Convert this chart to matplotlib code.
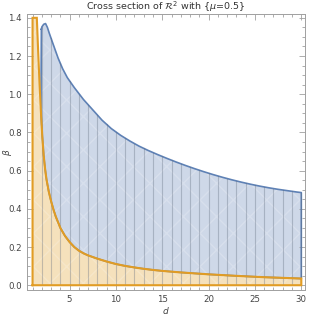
"""Cross section of R^2 region plot (mu = 0.5)."""

import numpy as np
import matplotlib
matplotlib.use("Agg")
import matplotlib.pyplot as plt
from matplotlib.ticker import MultipleLocator

# lower region (orange): beta below this curve, capped at 1.4
orange_d = [1.0, 1.0, 1.46, 1.6, 1.75, 1.9, 2.05, 2.2, 2.35, 2.5, 2.75, 3.0, 3.25, 3.5,
            4.0, 4.5, 5.0, 5.5, 6.0, 6.5, 7.0, 8.0, 9.0, 10.0, 11.0, 12.0, 13.0, 14.0,
            15.0, 17.0, 20.0, 23.0, 26.0, 30.0, 30.0]
orange_b = [0.0, 1.40, 1.40, 1.23, 1.06, 0.91, 0.78, 0.68, 0.61, 0.555, 0.49, 0.44, 0.397, 0.36,
            0.30, 0.258, 0.226, 0.20, 0.181, 0.167, 0.156, 0.139, 0.124, 0.111, 0.101, 0.093,
            0.086, 0.080, 0.075, 0.067, 0.057, 0.049, 0.042, 0.035, 0.0]

# upper boundary of the blue region
blue_d = [1.95, 2.0, 2.2, 2.4, 2.6, 2.8, 3.2, 3.75, 4.25, 4.75, 5.5, 6.5, 7.5, 8.5, 9.5,
          10.5, 11.5, 12.5, 13.5, 14.5, 15.5, 16.5, 17.5, 18.5, 19.5, 20.5, 21.5, 22.5,
          23.5, 24.5, 25.5, 26.5, 27.5, 28.5, 29.5, 30.0]
blue_b = [1.34, 1.352, 1.366, 1.37, 1.35, 1.32, 1.265, 1.19, 1.133, 1.087, 1.035, 0.972,
          0.918, 0.864, 0.82, 0.785, 0.755, 0.728, 0.705, 0.684, 0.664, 0.645, 0.627, 0.61,
          0.594, 0.579, 0.565, 0.552, 0.54, 0.529, 0.519, 0.51, 0.502, 0.495, 0.488, 0.485]

mesh_d = list(range(2, 31))

blue = "#5E81B5"
orange = "#E19C24"
frame_col = "#a0a0a0"
text_col = "#444444"

fig = plt.figure(figsize=(3.09, 3.17), dpi=100)
ax = fig.add_axes([27 / 309, 1 - 290 / 317, 278 / 309, 276 / 317])

# blue region: between orange curve and the upper curve
od = np.array(orange_d[2:-1])
ob = np.array(orange_b[2:-1])
keep = od >= 1.9
low_d = od[keep][::-1]
low_b = ob[keep][::-1]
poly_d = list(blue_d) + list(low_d)
poly_b = list(blue_b) + list(low_b)
ax.fill(poly_d, poly_b, facecolor=blue, alpha=0.3, lw=0)
ax.fill(poly_d, poly_b, facecolor="none", edgecolor=(1, 1, 1, 0.2), lw=0, hatch="x")
ax.plot(poly_d + [poly_d[0]], poly_b + [poly_b[0]], color=blue, lw=1.2, solid_joinstyle="round")

# orange region
ax.fill(orange_d, orange_b, facecolor=orange, alpha=0.3, lw=0)
ax.fill(orange_d, orange_b, facecolor="none", edgecolor=(1, 1, 1, 0.2), lw=0, hatch="x")

# mesh lines at integer d
for d in mesh_d:
    top = np.interp(d, blue_d, blue_b)
    ax.plot([d, d], [0, top], color="#5f6b7d", alpha=0.35, lw=0.8)

ax.plot(orange_d + [orange_d[0]], orange_b + [orange_b[0]], color=orange, lw=1.5,
        solid_joinstyle="miter")

ax.set_xlim(0.4, 30.4)
ax.set_ylim(-0.025, 1.42)

ax.xaxis.set_major_locator(MultipleLocator(5))
ax.xaxis.set_minor_locator(MultipleLocator(1))
ax.yaxis.set_major_locator(MultipleLocator(0.2))
ax.yaxis.set_minor_locator(MultipleLocator(0.05))
ax.yaxis.set_major_formatter(plt.FuncFormatter(lambda v, p: f"{v:.1f}"))

ax.tick_params(which="both", direction="in", top=True, right=True, color=frame_col,
               labelsize=6.2, labelcolor=text_col, width=0.6)
ax.tick_params(which="major", length=4)
ax.tick_params(which="minor", length=2)
for s in ax.spines.values():
    s.set_color(frame_col)
    s.set_linewidth(0.7)

fig.text(166 / 309, 1 - 7 / 317, r"Cross section of $\mathcal{R}^{2}$ with {$\mu$=0.5}",
         fontsize=6.8, color="#333333", ha="center", va="center")
ax.set_xlabel(r"$d$", fontsize=6.5, color=text_col, labelpad=1)
fig.text(8 / 309, 1 - 152 / 317, r"$\beta$", fontsize=6.5, color=text_col,
         rotation=90, ha="center", va="center")

fig.savefig("out.png", dpi=100)
